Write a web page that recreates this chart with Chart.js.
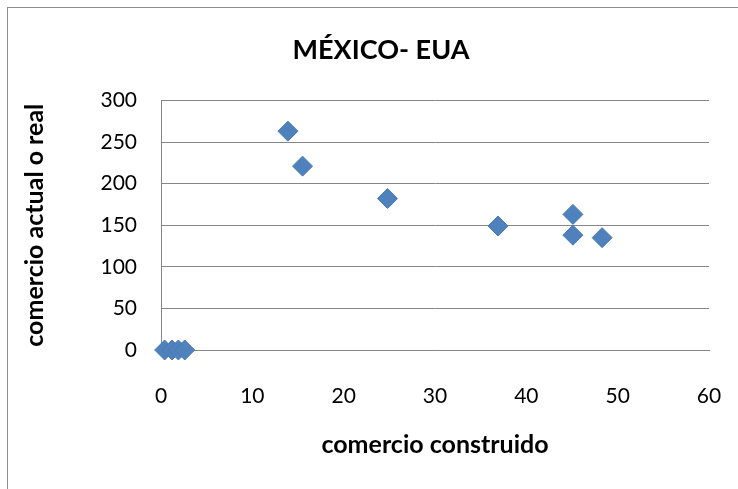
<!DOCTYPE html>
<html>
<head>
<meta charset="utf-8">
<script src="https://cdn.jsdelivr.net/npm/chart.js@4"></script>
<style>
  html, body { margin: 0; padding: 0; background: #fff; overflow: hidden; }
  #frame { position: absolute; left: 7px; top: 7px; width: 800px; height: 600px; border: 1px solid #8c8c8c; }
  #wrap { position: absolute; left: 0; top: 0; width: 738px; height: 489px; }
</style>
</head>
<body>
<div id="frame"></div>
<div id="wrap"><canvas id="myScatter"></canvas></div>
<script>
const ctx = document.getElementById('myScatter').getContext('2d');

const chartTitle = 'MÉXICO- EUA';
const xTitle = 'comercio construido';
const yTitle = 'comercio actual o real';

// comercio construido / comercio actual o real
const xValues = [0.4, 1.2, 1.9, 2.6, 13.9, 15.5, 24.8, 36.9, 45.1, 45.1, 48.3];
const yValues = [0, 0, 0, 0, 263, 221, 182, 149, 163, 138, 135];

const points = xValues.map((x, i) => ({ x: x, y: yValues[i] }));

const fontName = 'Lato, "Liberation Sans", sans-serif';

// move the title a bit right, like the excel chart
const shiftTitle = {
    id: 'shiftTitle',
    afterLayout(chart) {
        if (chart.titleBlock) {
            chart.titleBlock.left = 53;
        }
    }
};

const data = {
    datasets: [{
        label: 'Serie1',
        data: points,
        pointStyle: 'rectRot',
        pointRadius: 10,
        pointHoverRadius: 10,
        backgroundColor: '#4F81BD',
        borderColor: '#4A7AB3',
        borderWidth: 1,
        showLine: false,
        clip: false
    }]
};

const config = {
    type: 'scatter',
    data: data,
    options: {
        responsive: true,
        maintainAspectRatio: false,
        animation: false,
        layout: {
            padding: { left: 0, right: 29, top: 0, bottom: 0 }
        },
        scales: {
            x: {
                type: 'linear',
                min: 0,
                max: 60,
                ticks: {
                    stepSize: 10,
                    color: '#000',
                    padding: 4,
                    font: { family: fontName, size: 21 }
                },
                grid: { display: false, drawTicks: true, tickLength: 30 },
                border: { display: true, color: '#868686', width: 1 },
                title: {
                    display: true,
                    text: xTitle,
                    color: '#000',
                    padding: { top: 0, bottom: 29 },
                    font: { family: fontName, size: 25, weight: 'bold' }
                },
                afterFit: (scale) => { scale.height = 139; }
            },
            y: {
                type: 'linear',
                min: 0,
                max: 300,
                ticks: {
                    stepSize: 50,
                    color: '#000',
                    padding: 24,
                    font: { family: fontName, size: 21 }
                },
                grid: { display: true, drawTicks: false, color: '#868686', lineWidth: 1 },
                border: { display: true, color: '#868686', width: 1 },
                title: {
                    display: true,
                    text: yTitle,
                    color: '#000',
                    padding: { top: 20, bottom: 0 },
                    font: { family: fontName, size: 25, weight: 'bold' }
                },
                afterFit: (scale) => { scale.width = 161; }
            }
        },
        plugins: {
            legend: { display: false },
            tooltip: { enabled: false },
            title: {
                display: true,
                text: chartTitle,
                color: '#000',
                padding: { top: 34, bottom: 34 },
                font: { family: fontName, size: 27, weight: 'bold' }
            }
        }
    },
    plugins: [shiftTitle]
};

const myScatter = new Chart(ctx, config);
</script>
</body>
</html>
